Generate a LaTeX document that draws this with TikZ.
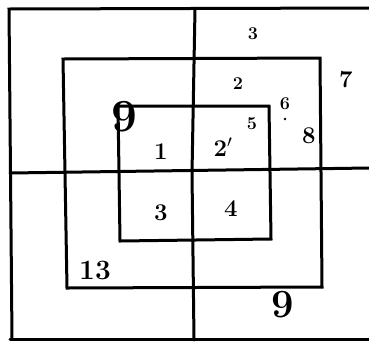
\documentclass[tikz,border=0pt]{standalone}
\begin{document}
\begin{tikzpicture}[x=1pt,y=-1pt,
  frame/.style={line width=3pt,black,line cap=round,line join=miter},
  lbl/.style={inner sep=0pt,font=\fontsize{24}{26}\selectfont\bfseries},
  small/.style={inner sep=0pt,font=\fontsize{18}{20}\selectfont\bfseries},
  big/.style={inner sep=0pt,font=\fontsize{46}{48}\selectfont\bfseries}]
\useasboundingbox (0,0) rectangle (369,341);
% outer frame
\draw[frame] (12,339) -- (9,9) -- (369,8);
\draw[frame] (10,339) -- (369,339);
% cross lines
\draw[frame] (195,9) -- (192,173) -- (194,340);
\draw[frame] (10,173) -- (369,168);
% middle square
\draw[frame] (63,59) -- (320,58) -- (322,287) -- (67,288) -- cycle;
% inner square
\draw[frame] (118,106) -- (269,106) -- (271,239) -- (120,241) -- cycle;
% labels
\node[small] (l3a) at (253,34) {3};
\node[small] (l2) at (238,84) {2};
\node[lbl] (l7) at (346,80) {7};
\node[small] (l6) at (285,104) {6};
\fill (285,119) circle (1.3pt);
\node[small] (l5) at (252,124) {5};
\node[lbl] (l8) at (309,136) {8};
\node[lbl] (l1) at (161,152) {1};
\node[lbl] (l2p) at (223,147) {2$'$};
\node[lbl] (l3b) at (161,213) {3};
\node[lbl] (l4) at (231,209) {4};
\node[big] (l9a) at (124,117) {9};
\node[lbl,font=\fontsize{28}{30}\selectfont\bfseries] (l13) at (95,270) {13};
\node[big,font=\fontsize{40}{42}\selectfont\bfseries] (l9b) at (283,305) {9};
\end{tikzpicture}
\end{document}
